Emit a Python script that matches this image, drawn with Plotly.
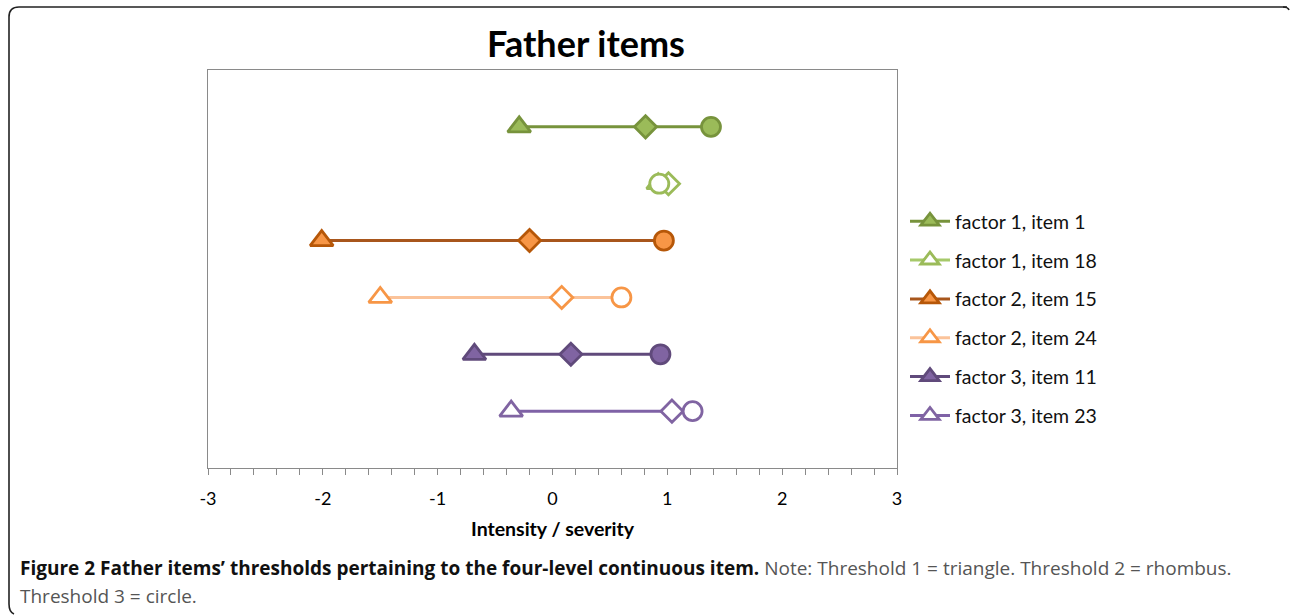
import plotly.graph_objects as go

# ---- data ----
series_names = ["factor 1, item 1", "factor 1, item 18", "factor 2, item 15",
                "factor 2, item 24", "factor 3, item 11", "factor 3, item 23"]
row_positions = [6, 5, 4, 3, 2, 1]
threshold1 = [-0.29, 0.92, -2.01, -1.50, -0.68, -0.36]   # triangle
threshold2 = [0.81, 1.01, -0.20, 0.08, 0.16, 1.04]       # rhombus
threshold3 = [1.38, 0.93, 0.97, 0.60, 0.94, 1.22]        # circle
x_ticks = [-3, -2, -1, 0, 1, 2, 3]

# ---- styles ----
line_colors = ["#77933C", "#A6C96A", "#A8561C", "#FBC39A", "#604A7B", "#7F62A6"]
edge_colors = ["#77933C", "#9BBB59", "#B65708", "#F79646", "#604A7B", "#8064A2"]
fill_colors = ["#9BBB59", "white", "#F79646", "white", "#8064A2", "white"]

W, H = 1290, 615
L, R, T, B = 208, 897, 70, 468

fig = go.Figure()
for i, name in enumerate(series_names):
    xs = [threshold1[i], threshold2[i], threshold3[i]]
    ys = [row_positions[i]] * 3
    fig.add_trace(go.Scatter(
        x=xs, y=ys, mode="lines+markers", name=name, legendgroup=name,
        line=dict(color=line_colors[i], width=3),
        marker=dict(symbol=["triangle-up", "diamond", "circle"],
                    size=[20, 17, 19], color=fill_colors[i], opacity=1,
                    line=dict(color=edge_colors[i], width=2.8)),
    ))

def px(x):
    return (x - L) / (R - L)

def py(y):
    return (B - y) / (B - T)

shapes = [
    dict(type="path", xref="paper", yref="paper",
         path=(f"M {px(1287)},{py(7)} L {px(19)},{py(7)} Q {px(9)},{py(7)} {px(9)},{py(17)} "
               f"L {px(9)},{py(604)} Q {px(9)},{py(612)} {px(14)},{py(614)}"),
         line=dict(color="#222222", width=1.6)),
    dict(type="path", xref="paper", yref="paper",
         path=f"M {px(1283)},{py(7)} Q {px(1288)},{py(7)} {px(1289)},{py(10)}",
         line=dict(color="#222222", width=1.6)),
]

annotations = [
    dict(text="<b>Father items</b>", x=px(586), y=py(43), xref="paper", yref="paper",
         showarrow=False, xanchor="center", yanchor="middle",
         font=dict(family="Lato", size=36, color="black")),
    dict(text="<b>Intensity / severity</b>", x=px(553), y=py(528), xref="paper", yref="paper",
         showarrow=False, xanchor="center", yanchor="middle",
         font=dict(family="Lato", size=19.5, color="black")),
    dict(text=("<b>Figure 2 Father items\u2019 thresholds pertaining to the four-level continuous item.</b>"
               "<span style='color:#555555'> Note: Threshold 1 = triangle. Threshold 2 = rhombus.</span>"),
         x=px(18), y=py(568), xref="paper", yref="paper", showarrow=False,
         xanchor="left", yanchor="middle",
         font=dict(family="Open Sans", size=19, color="#111111")),
    dict(text="Threshold 3 = circle.", x=px(18), y=py(596), xref="paper", yref="paper",
         showarrow=False, xanchor="left", yanchor="middle",
         font=dict(family="Open Sans", size=19, color="#555555")),
]

fig.update_layout(
    width=W, height=H,
    margin=dict(l=L, r=W - R, t=T, b=H - B),
    paper_bgcolor="white", plot_bgcolor="white",
    showlegend=True,
    legend=dict(x=px(905), y=py(202), xanchor="left", yanchor="top",
                font=dict(family="Lato", size=19.5, color="#111111"),
                tracegroupgap=10.5, bgcolor="rgba(0,0,0,0)", itemwidth=40),
    shapes=shapes, annotations=annotations,
    xaxis=dict(range=[-3, 3], tickvals=x_ticks, ticktext=[str(v) for v in x_ticks],
               showgrid=False, zeroline=False, showline=True, linecolor="#8A8A8A",
               linewidth=1.3, mirror=True, ticks="outside", ticklen=6, tickcolor="#8A8A8A",
               minor=dict(dtick=0.2, ticks="outside", ticklen=6, tickcolor="#8A8A8A"),
               tickfont=dict(family="Lato", size=18, color="black"),
               ticklabelstandoff=8),
    yaxis=dict(range=[0, 7], showgrid=False, zeroline=False, showline=True,
               linecolor="#8A8A8A", linewidth=1.3, mirror=True,
               showticklabels=False, ticks=""),
)

fig.write_html("out.html", config={"displayModeBar": False},
               post_script="document.body.style.margin='0px';")
